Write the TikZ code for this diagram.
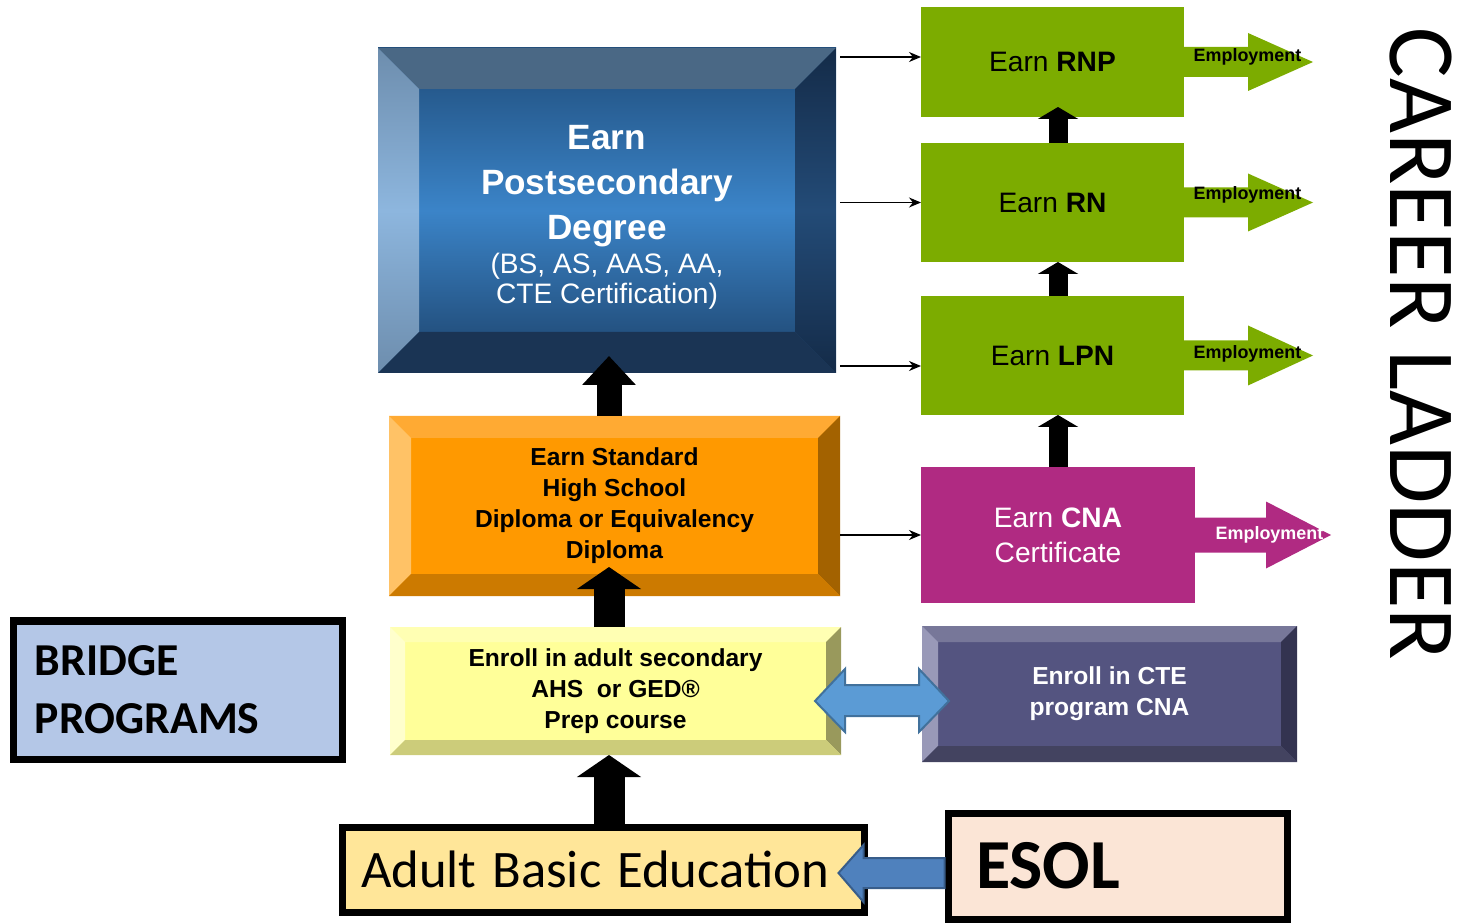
\documentclass[tikz,border=0pt]{standalone}
\usepackage{fontspec}
\setmainfont{Liberation Sans}
\newfontfamily\calibri{Carlito}
\usetikzlibrary{arrows.meta,calc}

\definecolor{degTop}{HTML}{1F4C7A}
\definecolor{degMid}{HTML}{3B84C8}
\definecolor{degBot}{HTML}{1C4169}
\definecolor{degRim}{HTML}{4A6885}
\definecolor{degLeftEnd}{HTML}{6D8DAD}
\definecolor{degLeftMid}{HTML}{8DB6DE}
\definecolor{degRightEnd}{HTML}{142B48}
\definecolor{degRightMid}{HTML}{234B77}
\definecolor{degBase}{HTML}{1A3454}
\definecolor{dipFace}{HTML}{FF9900}
\definecolor{dipTop}{HTML}{FFAA33}
\definecolor{dipLeft}{HTML}{FFC266}
\definecolor{dipRight}{HTML}{A36200}
\definecolor{dipBase}{HTML}{CC7A00}
\definecolor{prepFace}{HTML}{FFFF99}
\definecolor{prepTop}{HTML}{FFFFB3}
\definecolor{prepLeft}{HTML}{FFFFCC}
\definecolor{prepRight}{HTML}{99995C}
\definecolor{prepBase}{HTML}{CCCC7A}
\definecolor{cteFace}{HTML}{545480}
\definecolor{cteTop}{HTML}{777799}
\definecolor{cteLeft}{HTML}{9999B8}
\definecolor{cteRight}{HTML}{333350}
\definecolor{cteBase}{HTML}{434360}
\definecolor{rungGreen}{HTML}{7CAC00}
\definecolor{cnaPink}{HTML}{B02A82}
\definecolor{abeFill}{HTML}{FFE699}
\definecolor{esolFill}{HTML}{FBE5D6}
\definecolor{bridgeFill}{HTML}{B4C7E7}
\definecolor{linkBlue}{HTML}{5B9BD5}
\definecolor{linkEdge}{HTML}{41719C}
\definecolor{esolBlue}{HTML}{4F81BD}
\definecolor{esolEdge}{HTML}{385D8A}

% four bevel faces round a box node
\newcommand{\bevelframe}[6]{%
  \path[#3] (#1.north west) -- (#1.north east) -- ([shift={(-#2,-#2)}]#1.north east) -- ([shift={(#2,-#2)}]#1.north west) -- cycle;
  \path[#4] (#1.north west) -- ([shift={(#2,-#2)}]#1.north west) -- ([shift={(#2,#2)}]#1.south west) -- (#1.south west) -- cycle;
  \path[#5] (#1.north east) -- (#1.south east) -- ([shift={(-#2,#2)}]#1.south east) -- ([shift={(-#2,-#2)}]#1.north east) -- cycle;
  \path[#6] (#1.south west) -- ([shift={(#2,#2)}]#1.south west) -- ([shift={(-#2,#2)}]#1.south east) -- (#1.south east) -- cycle;
}
% fat arrow leaving a box to the right
\newcommand{\employ}[5]{%
  \fill[#2, shift={(#1.east)}] (0,#4) -- (#3,#4) -- (#3,#5) -- ({#3+0.65},0) -- (#3,-#5) -- (#3,-#4) -- (0,-#4) -- cycle;
}

\begin{document}
\begin{tikzpicture}[
  bevelbox/.style={rectangle, inner sep=0pt, outer sep=0pt, align=center},
  rungbox/.style={rectangle, fill=rungGreen, inner sep=0pt, outer sep=0pt, minimum width=2.63cm, font=\fontsize{8}{9.6}\selectfont},
  framebox/.style={rectangle, draw=black, line width=0.07cm, inner ysep=0pt, align=left},
  lift/.style={line width=0.31cm, -{Triangle[length=0.22cm,width=0.63cm]}},
  rung/.style={line width=0.19cm, -{Triangle[length=0.12cm,width=0.40cm]}},
  feed/.style={line width=0.012cm, -{Stealth[length=0.12cm,width=0.10cm]}},
  employtext/.style={anchor=west, inner sep=0pt, font=\fontsize{5.1}{6}\selectfont\bfseries},
  blockarrow/.style={line width=0.02cm, line join=miter}
]
    \useasboundingbox (0,0) rectangle (14.57,-9.24);
    \coordinate (spine) at (6.09,0);
    \coordinate (rail) at (10.58,0);

    % school track
    \node[bevelbox, minimum width=4.58cm, minimum height=3.25cm, top color=degTop, bottom color=degBot, middle color=degMid,
          text=white, font=\fontsize{10}{12.8}\selectfont\bfseries] (degree) at (6.07,-2.105)
      {\rule{0pt}{10.5pt}Earn\\Postsecondary\\Degree\\[-3.1pt]\fontsize{8}{9.7}\selectfont\mdseries(BS, AS, AAS, AA,\\[-4.3pt]\fontsize{8}{8.6}\selectfont\mdseries CTE Certification)};
    \bevelframe{degree}{0.41}{fill=degRim}{top color=degLeftEnd, bottom color=degLeftEnd, middle color=degLeftMid}{top color=degRightEnd, bottom color=degRightEnd, middle color=degRightMid}{fill=degBase}

    \node[bevelbox, minimum width=4.51cm, minimum height=1.80cm, fill=dipFace, font=\fontsize{7}{8.8}\selectfont\bfseries] (diploma) at (6.145,-5.06)
      {Earn Standard\\High School\\Diploma or Equivalency\\Diploma};
    \bevelframe{diploma}{0.22}{fill=dipTop}{fill=dipLeft}{fill=dipRight}{fill=dipBase}

    \node[bevelbox, minimum width=4.51cm, minimum height=1.28cm, fill=prepFace, font=\fontsize{7}{8.8}\selectfont\bfseries] (prep) at (6.155,-6.91)
      {Enroll in adult secondary\\AHS\ \ or GED®\\Prep course};
    \bevelframe{prep}{0.15}{fill=prepTop}{fill=prepLeft}{fill=prepRight}{fill=prepBase}

    \node[bevelbox, minimum width=3.75cm, minimum height=1.36cm, fill=cteFace, text=white, font=\fontsize{7}{8.8}\selectfont\bfseries] (cte) at (11.095,-6.94)
      {Enroll in CTE\\program CNA};
    \bevelframe{cte}{0.16}{fill=cteTop}{fill=cteLeft}{fill=cteRight}{fill=cteBase}

    % career ladder
    \node[rungbox, minimum height=1.10cm] (rnp) at (10.525,-0.62) {Earn \textbf{RNP}};
    \node[rungbox, minimum height=1.19cm] (rn) at (10.525,-2.025) {Earn \textbf{RN}};
    \node[rungbox, minimum height=1.19cm] (lpn) at (10.525,-3.555) {Earn \textbf{LPN}};
    \node[bevelbox, fill=cnaPink, text=white, minimum width=2.74cm, minimum height=1.36cm, font=\fontsize{8}{10}\selectfont] (cna) at (10.58,-5.35)
      {Earn \textbf{CNA}\\Certificate};

    \employ{rnp}{rungGreen}{0.64}{0.15}{0.29}
    \employ{rn}{rungGreen}{0.64}{0.15}{0.29}
    \employ{lpn}{rungGreen}{0.64}{0.15}{0.30}
    \employ{cna}{cnaPink}{0.71}{0.175}{0.335}
    \node[employtext] (emp1) at ([shift={(0.09,0.05)}]rnp.east) {Employment};
    \node[employtext] (emp2) at ([shift={(0.09,0.08)}]rn.east) {Employment};
    \node[employtext] (emp3) at ([shift={(0.09,0.02)}]lpn.east) {Employment};
    \node[employtext, text=white] (emp4) at ([shift={(0.20,0)}]cna.east) {Employment};

    \node[rotate=-90, inner sep=0pt, font=\calibri\fontsize{27}{27}\selectfont] (title) at (14.21,-3.44) {CAREER LADDER};

    % bridge programs
    \node[framebox, fill=bridgeFill, inner xsep=0.21cm, text width=2.86cm, minimum height=1.38cm,
          font=\calibri\fontsize{13}{16.5}\selectfont\bfseries] (bridge) at (1.78,-6.90) {BRIDGE\\PROGRAMS};
    \node[framebox, fill=abeFill, inner xsep=0.19cm, text width=4.84cm, minimum height=0.85cm,
          font=\calibri\fontsize{15}{18}\selectfont] (abe) at (6.03,-8.695) {\spaceskip=0.3em\relax\mbox{Adult Basic Education}};
    \node[framebox, fill=esolFill, inner xsep=0.28cm, text width=2.83cm, minimum height=1.06cm,
          font=\calibri\fontsize{20}{24}\selectfont\bfseries] (esol) at (11.175,-8.66) {ESOL};

    % connectors
    \draw[lift, line width=0.25cm, -{Triangle[length=0.29cm,width=0.52cm]}, shorten >=-0.17cm] (diploma.north -| spine) -- (degree.south -| spine);
    \draw[lift, shorten >=-0.29cm] (prep.north -| spine) -- (diploma.south -| spine);
    \draw[lift] (abe.north -| spine) -- (prep.south -| spine);

    \draw[rung, shorten >=-0.10cm] (rn.north -| rail) -- (rnp.south -| rail);
    \draw[rung] (lpn.north -| rail) -- (rn.south -| rail);
    \draw[rung] (cna.north -| rail) -- (lpn.south -| rail);

    \draw[feed] ($(degree.east |- rnp.west)+(0.04,0.05)$) -- ($(rnp.west)+(0,0.05)$);
    \draw[feed] ($(degree.east |- rn.west)+(0.04,0)$) -- (rn.west);
    \draw[feed] ($(degree.east |- lpn.west)+(0.04,-0.105)$) -- ($(lpn.west)+(0,-0.105)$);
    \draw[feed] (diploma.east |- cna.west) -- (cna.west);

    \draw[blockarrow, fill=linkBlue, draw=linkEdge, shift={(prep.east)}]
      (-0.26,-0.10) -- (0.04,0.22) -- (0.04,0.06) -- (0.78,0.06) -- (0.78,0.22) -- (1.08,-0.10)
      -- (0.78,-0.41) -- (0.78,-0.25) -- (0.04,-0.25) -- (0.04,-0.41) -- cycle;
    \draw[blockarrow, fill=esolBlue, draw=esolEdge, shift={(esol.west)}]
      (0,0.08) -- (-0.81,0.08) -- (-0.81,0.21) -- (-1.06,-0.07) -- (-0.81,-0.36) -- (-0.81,-0.22) -- (0,-0.22) -- cycle;

\end{tikzpicture}
\end{document}
